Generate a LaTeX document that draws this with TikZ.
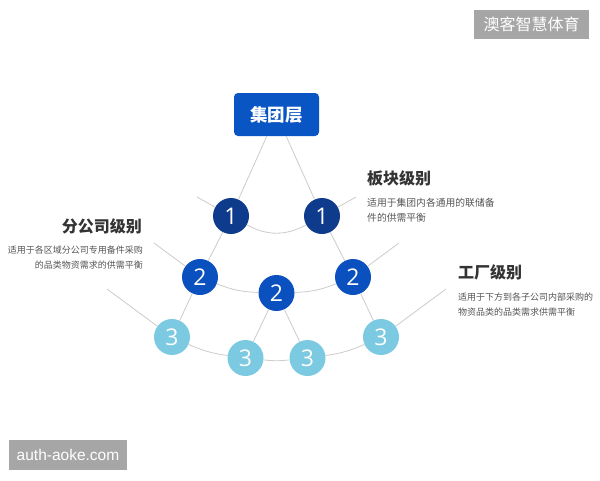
\documentclass[tikz,border=0pt]{standalone}
\usepackage{fontspec}
\setmainfont{Noto Sans CJK SC}
\newfontfamily\digitfont{Open Sans}
\newfontfamily\latinfont{Liberation Sans}
\definecolor{boxblue}{HTML}{0A55C4}
\definecolor{navy}{HTML}{0E3B8C}
\definecolor{midblue}{HTML}{0A50BE}
\definecolor{lightblue}{HTML}{7CCAE2}
\definecolor{linegray}{HTML}{CCCCCC}
\definecolor{titlegray}{HTML}{333333}
\definecolor{subgray}{HTML}{555555}
\definecolor{tagbg}{HTML}{A6A6A6}
\begin{document}
\begin{tikzpicture}[x=1pt,y=-1pt,
  conn/.style={draw=linegray,line width=0.8pt},
  circ/.style={circle,minimum size=36pt,inner sep=0pt,text=white,font=\digitfont\fontsize{23}{23}\selectfont},
  lvlone/.style={circ,fill=navy},
  lvltwo/.style={circ,fill=midblue},
  lvlthree/.style={circ,fill=lightblue},
  topbox/.style={rectangle,rounded corners=4pt,fill=boxblue,minimum width=85pt,minimum height=43pt,inner sep=0pt,text=white,font=\bfseries\fontsize{17.5}{17.5}\selectfont},
  ttl/.style={inner sep=0pt,text=titlegray,font=\bfseries\fontsize{16}{16}\selectfont},
  sub/.style={inner sep=0pt,text=subgray,font=\fontsize{9}{9}\selectfont},
  tag/.style={fill=tagbg,text=white,inner sep=0pt}
]
\fill[white] (0,0) rectangle (600,480);
\useasboundingbox (0,0) rectangle (600,480);

% nodes
\node[topbox] (top) at (276.5,114.5) {集团层};
\node[lvlone] (n1l) at (231,216) {1};
\node[lvlone] (n1r) at (322,216) {1};
\node[lvltwo] (n2l) at (200,277) {2};
\node[lvltwo] (n2m) at (276.5,293) {2};
\node[lvltwo] (n2r) at (353,277) {2};
\node[lvlthree] (n3a) at (172,337) {3};
\node[lvlthree] (n3b) at (245.5,358) {3};
\node[lvlthree] (n3c) at (307.5,358) {3};
\node[lvlthree] (n3d) at (381,337) {3};

\coordinate (e1l) at (197,197);
\coordinate (e1r) at (356,197);
\coordinate (e2l) at (154,243);
\coordinate (e2r) at (399,243);
\coordinate (e3l) at (107,289);
\coordinate (e3r) at (446,289);

% connectors
\draw[conn] (top) -- (n1l);
\draw[conn] (top) -- (n1r);
\draw[conn] (n1l) -- (n2l);
\draw[conn] (n1r) -- (n2r);
\draw[conn] (n2l) -- (n3a);
\draw[conn] (n2r) -- (n3d);
\draw[conn] (n2m) -- (n3b);
\draw[conn] (n2m) -- (n3c);
\draw[conn] (n1l) to[bend right=29] (n1r);
\draw[conn] (n2l) to[bend right=10] (n2m);
\draw[conn] (n2m) to[bend right=10] (n2r);
\draw[conn] (n3a) to[bend right=8] (n3b);
\draw[conn] (n3b) to[bend right=6] (n3c);
\draw[conn] (n3c) to[bend right=8] (n3d);
\draw[conn] (e1l) -- (n1l);
\draw[conn] (e1r) -- (n1r);
\draw[conn] (e2l) -- (n2l);
\draw[conn] (e2r) -- (n2r);
\draw[conn] (e3l) -- (n3a);
\draw[conn] (e3r) -- (n3d);

% labels
\node[ttl,anchor=west] (t1) at (367,178) {板块级别};
\node[sub,anchor=west,font=\fontsize{9.8}{9.8}\selectfont] (s1a) at (367,203) {适用于集团内各通用的联储备};
\node[sub,anchor=west,font=\fontsize{9.8}{9.8}\selectfont] (s1b) at (367,218) {件的供需平衡};

\node[ttl,anchor=east] (t2) at (142,226) {分公司级别};
\node[sub,anchor=east] (s2a) at (143,250) {适用于各区域分公司专用备件采购};
\node[sub,anchor=east] (s2b) at (143,265) {的品类物资需求的供需平衡};

\node[ttl,anchor=west] (t3) at (458,272) {工厂级别};
\node[sub,anchor=west] (s3a) at (458,297) {适用于下方到各子公司内部采购的};
\node[sub,anchor=west] (s3b) at (458,312) {物资品类的品类需求供需平衡};

% tags
\node[tag,minimum width=115pt,minimum height=29pt,font=\fontsize{16}{16}\selectfont] (tagtr) at (531.5,24.5) {澳客智慧体育};
\node[tag,minimum width=118pt,minimum height=30pt,font=\latinfont\fontsize{15.5}{15.5}\selectfont] (tagbl) at (68,455) {auth-aoke.com};
\end{tikzpicture}
\end{document}
